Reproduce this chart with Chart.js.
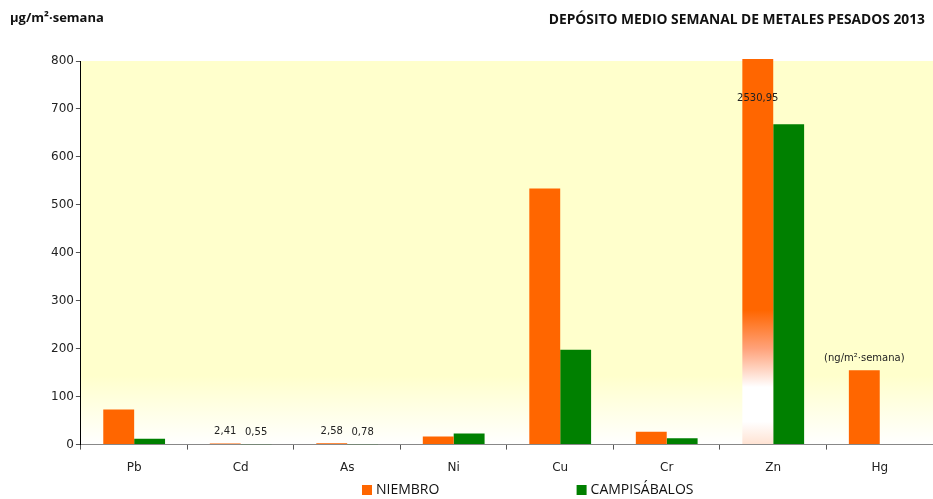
<!DOCTYPE html>
<html>
<head>
<meta charset="utf-8">
<script src="https://cdn.jsdelivr.net/npm/chart.js@4.4.0/dist/chart.umd.min.js"></script>
<style>
  html, body { margin: 0; padding: 0; background: #ffffff; }
  canvas { display: block; }
</style>
</head>
<body>
<canvas id="chart" width="933" height="499"></canvas>
<script>
// Datos: depósito medio semanal (µg/m²·semana, Hg en ng/m²·semana)
const categories = ['Pb', 'Cd', 'As', 'Ni', 'Cu', 'Cr', 'Zn', 'Hg'];
const niembro = [73, 2.41, 2.58, 17, 534, 27, 2530.95, 155];
const campisabalos = [12, 0.55, 0.78, 23, 198, 13, 668, null];
const niembroLabels = ['', '2,41', '2,58', '', '', '', '2530,95', '(ng/m²·semana)'];
const campisabalosLabels = ['', '0,55', '0,78', '', '', '', '', ''];
const yMin = 0, yMax = 800, yStep = 100;

const ORANGE = '#FF6600';
const GREEN = '#008000';

// Fondo del área de trazado: amarillo claro que se desvanece a blanco abajo
const plotBackground = {
    id: 'plotBackground',
    beforeDraw(chart) {
        const { ctx, chartArea: a } = chart;
        const g = ctx.createLinearGradient(0, a.top, 0, a.bottom);
        g.addColorStop(0, '#FFFFCC');
        g.addColorStop(0.82, '#FFFFCC');
        g.addColorStop(1, '#FFFFFF');
        ctx.save();
        ctx.fillStyle = g;
        ctx.fillRect(a.left, a.top, a.right - a.left, a.bottom - a.top);
        ctx.restore();
    }
};

// Barra que sobrepasa el eje: degradado (corte) hacia abajo
function niembroColor(context) {
    const chart = context.chart;
    const a = chart.chartArea;
    const v = context.raw;
    if (!a || v == null || v <= yMax) return ORANGE;
    const g = chart.ctx.createLinearGradient(0, a.bottom, 0, a.top);
    g.addColorStop(0, '#FFE2D2');
    g.addColorStop(0.06, '#FFFFFF');
    g.addColorStop(0.15, '#FFFFFF');
    g.addColorStop(0.25, '#FFA27A');
    g.addColorStop(0.35, ORANGE);
    g.addColorStop(1, ORANGE);
    return g;
}

// Etiquetas de valor encima de las barras
const valueLabels = {
    id: 'valueLabels',
    afterDatasetsDraw(chart) {
        const { ctx, chartArea: a } = chart;
        const sets = [niembroLabels, campisabalosLabels];
        ctx.save();
        ctx.fillStyle = '#222222';
        ctx.font = '10px "DejaVu Sans", Verdana, sans-serif';
        ctx.textAlign = 'center';
        ctx.textBaseline = 'middle';
        sets.forEach((labels, di) => {
            const meta = chart.getDatasetMeta(di);
            meta.data.forEach((bar, i) => {
                const txt = labels[i];
                if (!txt) return;
                let y = bar.y - 12;
                if (bar.y < a.top) y = a.top + 37;
                ctx.fillText(txt, bar.x, y);
            });
        });
        ctx.restore();
    }
};

// Títulos superiores
const headerTexts = {
    id: 'headerTexts',
    afterDraw(chart) {
        const ctx = chart.ctx;
        ctx.save();
        ctx.fillStyle = '#111111';
        ctx.textBaseline = 'middle';
        ctx.font = 'bold 13px "Open Sans", sans-serif';
        ctx.textAlign = 'left';
        ctx.fillText('µg/m²·semana', 10, 18);
        ctx.font = 'bold 13.8px "Open Sans", sans-serif';
        ctx.textAlign = 'right';
        ctx.fillText('DEPÓSITO MEDIO SEMANAL DE METALES PESADOS 2013', 925, 20);
        ctx.restore();
    }
};

// Leyenda inferior
const bottomLegend = {
    id: 'bottomLegend',
    afterDraw(chart) {
        const ctx = chart.ctx;
        const xs = [chart.width * 0.388, chart.width * 0.618];
        const y = chart.height - 9;
        ctx.save();
        ctx.font = '14px "Open Sans", sans-serif';
        ctx.textBaseline = 'middle';
        ctx.textAlign = 'left';
        chart.data.datasets.forEach((ds, i) => {
            ctx.fillStyle = ds.legendColor;
            ctx.fillRect(xs[i], y - 5, 10, 10);
            ctx.fillStyle = '#111111';
            ctx.fillText(ds.label, xs[i] + 14, y);
        });
        ctx.restore();
    }
};

const chart = new Chart(document.getElementById('chart'), {
    type: 'bar',
    data: {
        labels: categories,
        datasets: [
            {
                label: 'NIEMBRO',
                data: niembro,
                backgroundColor: niembroColor,
                legendColor: ORANGE,
                borderWidth: 0,
                clip: { left: 0, top: 2, right: 0, bottom: 0 }
            },
            {
                label: 'CAMPISÁBALOS',
                data: campisabalos,
                backgroundColor: GREEN,
                legendColor: GREEN,
                borderWidth: 0
            }
        ]
    },
    options: {
        responsive: false,
        animation: false,
        devicePixelRatio: 1,
        categoryPercentage: 0.58,
        barPercentage: 1,
        layout: { padding: { top: 61, right: 0, bottom: 13, left: 49 } },
        plugins: {
            legend: { display: false },
            tooltip: { enabled: false },
            title: { display: false }
        },
        scales: {
            x: {
                grid: { drawOnChartArea: false, drawTicks: true, tickLength: 5, color: '#555555', offset: true },
                border: { display: true, color: '#888888', width: 1 },
                ticks: {
                    color: '#222222',
                    padding: 11,
                    font: { family: '"DejaVu Sans", Verdana, sans-serif', size: 12 }
                }
            },
            y: {
                min: yMin,
                max: yMax,
                grid: { drawOnChartArea: false, drawTicks: true, tickLength: 5, color: '#555555' },
                border: { display: true, color: '#000000', width: 1 },
                ticks: {
                    stepSize: yStep,
                    color: '#222222',
                    padding: 2,
                    font: { family: '"DejaVu Sans", Verdana, sans-serif', size: 12 }
                }
            }
        }
    },
    plugins: [plotBackground, valueLabels, headerTexts, bottomLegend]
});
</script>
</body>
</html>
